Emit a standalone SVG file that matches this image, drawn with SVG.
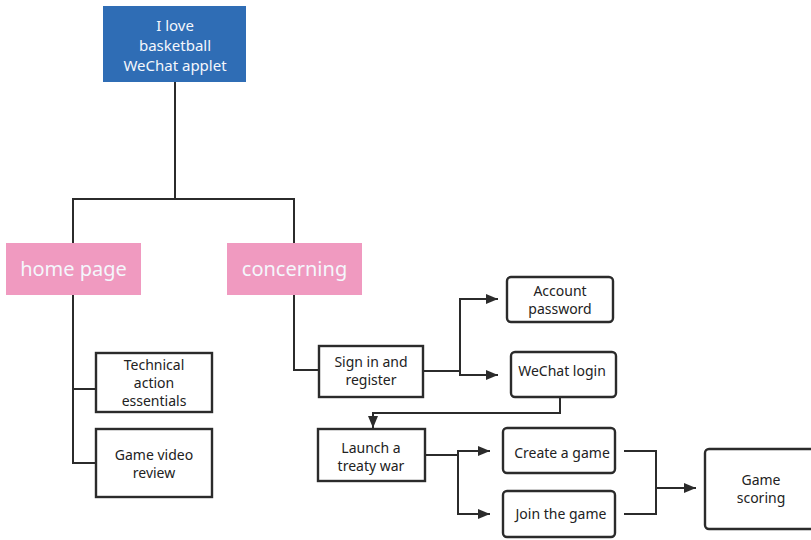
<svg xmlns="http://www.w3.org/2000/svg" width="811" height="540" viewBox="0 0 811 540">
<defs>
<style>
.box{fill:#fff;stroke:#2b2b2b;stroke-width:2.4}
.t{font-family:"Noto Sans","Open Sans",sans-serif;font-size:14px;fill:#222;text-anchor:middle}
.w{font-family:"Noto Sans","Open Sans",sans-serif;fill:#f4f7fc;text-anchor:middle}
.c{fill:none;stroke:#2b2b2b;stroke-width:2}
</style>
<marker id="ar" viewBox="0 0 12 10" refX="12" refY="5" markerWidth="12" markerHeight="10" markerUnits="userSpaceOnUse" orient="auto">
<path d="M0,0 L12,5 L0,10 Z" fill="#2b2b2b"/>
</marker>
</defs>
<rect width="811" height="540" fill="#fff"/>
<g id="connectors">
<path class="c" d="M175,82 V199 M73,243 V199 H294 V243"/>
<path class="c" d="M73,295 V463 H96 M73,389 H96"/>
<path class="c" d="M294,295 V370 H319"/>
<path class="c" d="M423,371 H460 V299 H498" marker-end="url(#ar)"/>
<path class="c" d="M460,371 V375 H498" marker-end="url(#ar)"/>
<path class="c" d="M560,397 V413 H373 V428" marker-end="url(#ar)"/>
<path class="c" d="M425,455 H458 V451 H490" marker-end="url(#ar)"/>
<path class="c" d="M458,455 V514 H490" marker-end="url(#ar)"/>
<path class="c" d="M624,451 H656 V514 H624 M656,488 H696" marker-end="url(#ar)"/>
</g>
<g id="root">
<rect x="103" y="6" width="143" height="76" fill="#2f6db5"/>
<text class="w" font-size="15" x="175" y="31">I love</text>
<text class="w" font-size="15" x="175" y="51">basketball</text>
<text class="w" font-size="15" x="175" y="71">WeChat applet</text>
</g>
<g id="home">
<rect x="6" y="243" width="135" height="52" fill="#f09ac0"/>
<text class="w" font-size="20" x="73.5" y="276">home page</text>
</g>
<g id="concerning">
<rect x="227" y="243" width="135" height="52" fill="#f09ac0"/>
<text class="w" font-size="20" x="294.5" y="276">concerning</text>
</g>
<g id="technical">
<rect class="box" x="96" y="353" width="116" height="59"/>
<text class="t" font-size="13.5" x="154" y="370">Technical</text>
<text class="t" font-size="13.5" x="154" y="388">action</text>
<text class="t" font-size="13.5" x="154" y="406">essentials</text>
</g>
<g id="video">
<rect class="box" x="96" y="429" width="116" height="68"/>
<text class="t" x="154" y="460">Game video</text>
<text class="t" x="154" y="478">review</text>
</g>
<g id="signin">
<rect class="box" x="319" y="346" width="104" height="51"/>
<text class="t" x="371" y="367">Sign in and</text>
<text class="t" x="371" y="385">register</text>
</g>
<g id="account">
<rect class="box" x="507" y="277" width="106" height="45" rx="4"/>
<text class="t" x="560" y="296">Account</text>
<text class="t" x="560" y="314">password</text>
</g>
<g id="wechat">
<rect class="box" x="511" y="352" width="105" height="45" rx="4"/>
<text class="t" x="562" y="376">WeChat login</text>
</g>
<g id="launch">
<rect class="box" x="318" y="429" width="107" height="52"/>
<text class="t" x="371" y="453">Launch a</text>
<text class="t" x="371" y="471">treaty war</text>
</g>
<g id="create">
<rect class="box" x="503" y="428" width="112" height="45" rx="4"/>
<text class="t" x="562" y="458">Create a game</text>
</g>
<g id="join">
<rect class="box" x="503" y="491" width="112" height="46" rx="4"/>
<text class="t" x="561" y="519">Join the game</text>
</g>
<g id="scoring">
<rect class="box" x="705" y="449" width="112" height="80" rx="4"/>
<text class="t" x="761" y="485">Game</text>
<text class="t" x="761" y="503">scoring</text>
</g>
</svg>
